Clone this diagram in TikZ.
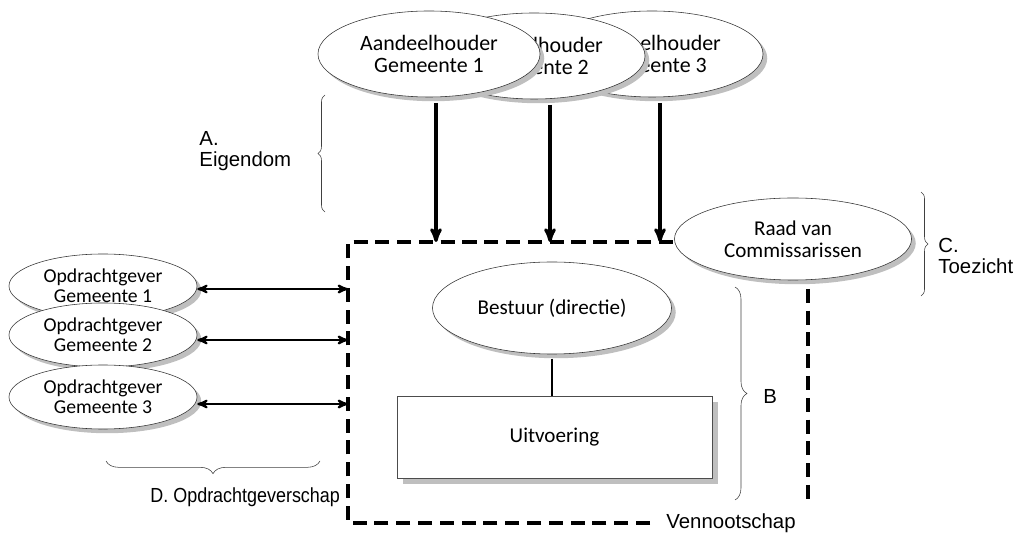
\documentclass[tikz,border=0pt]{standalone}
\usepackage{fontspec}
\setmainfont{Liberation Sans}
\newfontfamily\bodyfont{Carlito}
\usetikzlibrary{arrows}
\usetikzlibrary{shapes.geometric}
\usetikzlibrary{shadows}
\usetikzlibrary{decorations.pathreplacing}

\begin{document}
\begin{tikzpicture}[x=0.025cm,y=-0.025cm,>=stealth',semithick]
	\tikzstyle{party}=[ellipse,draw=black!80,thin,fill=white,align=center,inner sep=0pt,
		font=\bodyfont\fontsize{15}{15.6}\selectfont,
		drop shadow={shadow xshift=3pt,shadow yshift=-3pt,fill=black!25,opacity=1}]
	\tikzstyle{client}=[party,minimum width=4.7cm,minimum height=1.6cm,
		font=\bodyfont\fontsize{14}{14}\selectfont]
	\tikzstyle{owner}=[party,minimum width=5.55cm,minimum height=2.15cm,
		font=\bodyfont\fontsize{15.6}{15}\selectfont]
	\tikzstyle{sidetext}=[align=left,anchor=west,inner sep=0pt,font=\fontsize{14.5}{15}\selectfont]
	\tikzstyle{bracket}=[decorate,decoration={brace,amplitude=5pt},thin,black!75]
	\tikzstyle{dashbox}=[line width=2.6pt,dash pattern=on 10pt off 5.5pt]
	\tikzstyle{feed}=[->,line width=2.2pt,shorten <=4pt]
	\tikzstyle{link}=[<->,line width=1.5pt]

	\useasboundingbox (0,0) rectangle (1024,536);

	% vennootschap
	\coordinate (in1) at (436,242);
	\coordinate (in2) at (550,242);
	\coordinate (in3) at (660,242);
	\coordinate (out1) at (348,289);
	\coordinate (out2) at (348,340);
	\coordinate (out3) at (348,404);
	\draw[dashbox] (650,523) -- (348,523) -- (348,242) -- (808,242) -- (808,503);
	\node[sidetext] (venn) at (666,523) {Vennootschap};

	% aandeelhouders
	\node[owner] (ah3) at (652,54) {Aandeelhouder\\Gemeente 3};
	\node[owner] (ah2) at (534,56) {Aandeelhouder\\Gemeente 2};
	\node[owner] (ah1) at (429,54) {Aandeelhouder\\Gemeente 1};
	\path (ah1.south -| in1) edge[feed] (in1)
		(ah2.south -| in2) edge[feed] (in2)
		(ah3.south -| in3) edge[feed] (in3);

	% opdrachtgevers
	\node[client] (og1) at (103,286) {Opdrachtgever\\Gemeente 1};
	\node[client] (og2) at (103,335) {Opdrachtgever\\Gemeente 2};
	\node[client] (og3) at (103,397) {Opdrachtgever\\Gemeente 3};
	\path (og1.east |- out1) edge[link] (out1)
		(og2.east |- out2) edge[link] (out2)
		(og3.east |- out3) edge[link] (out3);

	\node[party,minimum width=5.925cm,minimum height=2.05cm] (rvc) at (793,239) {Raad van\\Commissarissen};
	\node[party,minimum width=5.975cm,minimum height=2.3cm] (best) at (552,308) {Bestuur (directie)};
	\node[rectangle,draw=black!70,thin,fill=white,minimum width=7.875cm,minimum height=2.05cm,
		font=\bodyfont\fontsize{15}{15}\selectfont,
		drop shadow={shadow xshift=4pt,shadow yshift=-4pt,fill=black!25,opacity=1}] (uitv) at (554.5,437) {Uitvoering};
	\path (best.south) edge[line width=2pt,shorten <=3pt] (best.south |- uitv.north);

	% accolades
	\draw[bracket] (325,212) -- (325,95);
	\draw[bracket,decoration={amplitude=8.5pt}] (735,287) -- (735,500);
	\draw[bracket] (921,192) -- (921,296);
	\draw[bracket,decoration={amplitude=9pt}] (320,461) -- (106,461);
	\node[sidetext] (eig) at (199,151) {A.\\Eigendom};
	\node[sidetext] (bst) at (763,396) {B};
	\node[sidetext] (toez) at (938,256) {C.\\Toezicht};
	\node[sidetext] (opdr) at (150,497) {\scalebox{0.88}[1]{D. Opdrachtgeverschap}};
\end{tikzpicture}
\end{document}
